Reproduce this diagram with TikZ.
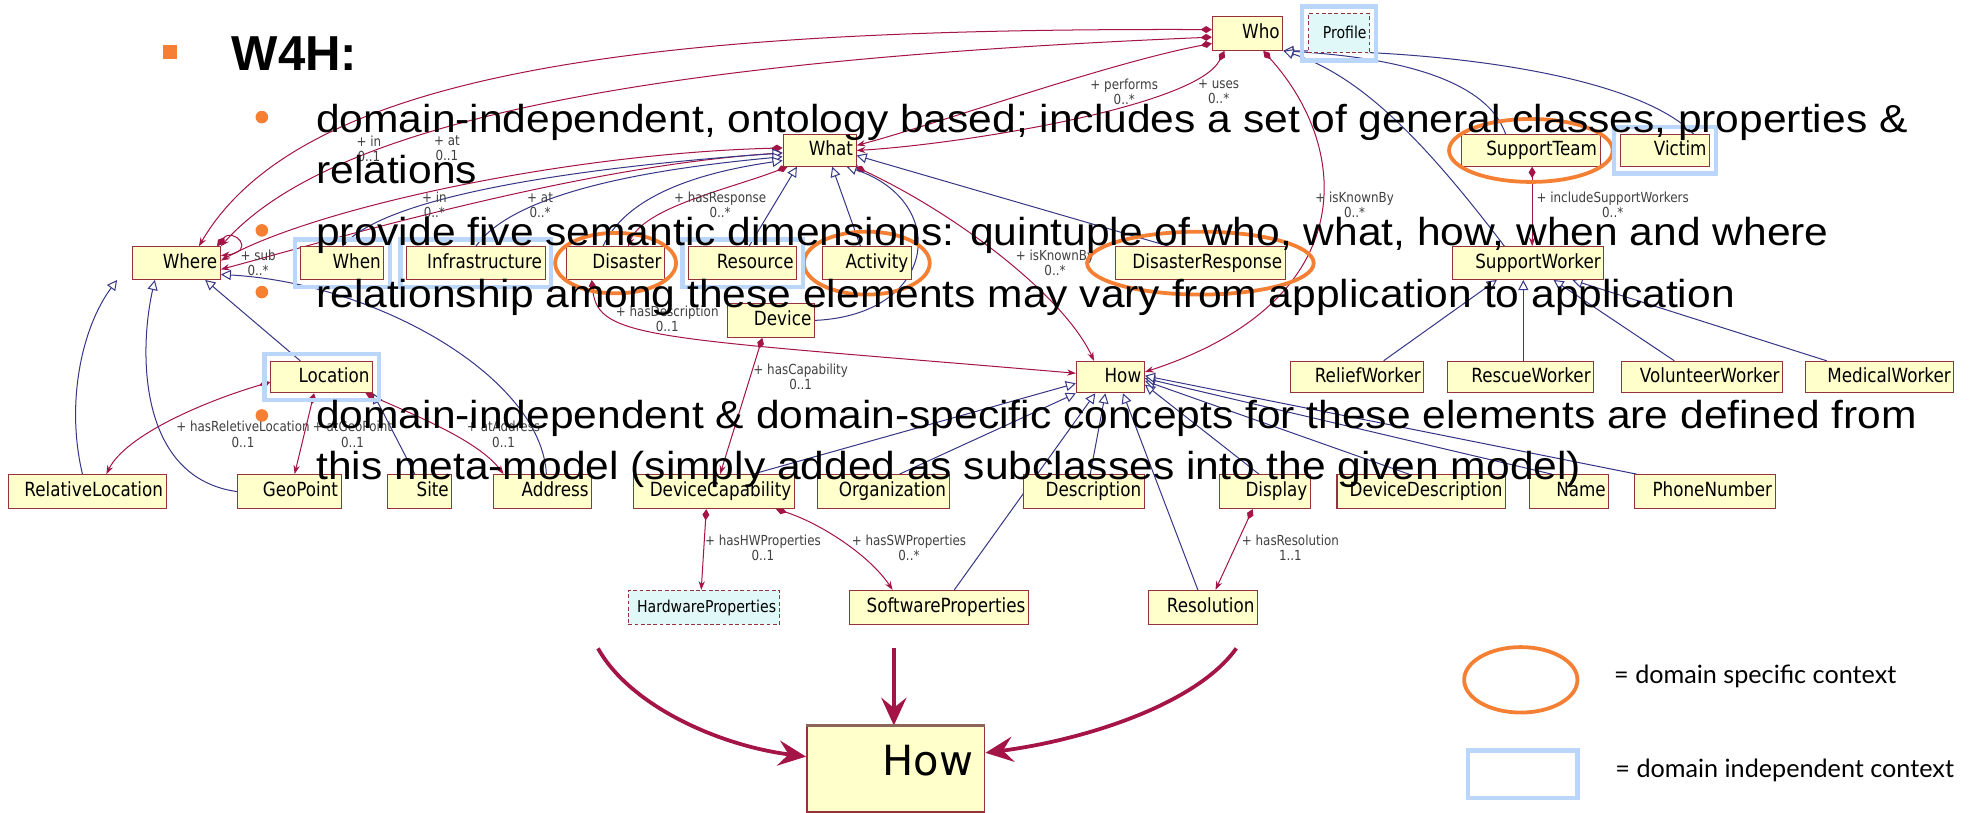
\documentclass[tikz,border=0pt]{standalone}
\usepackage{fontspec}
\setmainfont{Liberation Sans}
\newfontfamily\slidefont[FakeStretch=1.09]{Liberation Sans}
\newfontfamily\umlfont[FakeStretch=0.86]{DejaVu Sans}
\newfontfamily\bigumlfont{DejaVu Sans}
\newfontfamily\legendfont{Lato}
\usetikzlibrary{arrows.meta,fit,shapes.geometric}
\pgfdeclarelayer{bg}
\pgfsetlayers{bg,main}
\definecolor{clsfill}{RGB}{255,255,204}
\definecolor{clsdraw}{RGB}{150,50,60}
\definecolor{ifacefill}{RGB}{224,248,248}
\definecolor{assoccol}{RGB}{165,20,70}
\definecolor{gencol}{RGB}{55,55,135}
\definecolor{ctxorange}{RGB}{245,128,52}
\definecolor{ctxblue}{RGB}{186,214,250}
\definecolor{bigtop}{RGB}{140,100,90}
\def\umlbox[#1](#2)(#3,#4)(#5,#6)#7{%
	\pgfmathsetmacro\bw{#5-#3}\pgfmathsetmacro\bh{#6-#4}\pgfmathsetmacro\tw{#5-#3-5}%
	\node[cls,#1,minimum width=\bw pt,minimum height=\bh pt,text width=\tw pt] (#2) at ({(#3+#5)/2},{(#4+#6)/2}) {#7};}
\tikzset{
	cls/.style={draw=clsdraw, fill=clsfill, line width=0.8pt, inner xsep=2.5pt, inner ysep=0pt, align=right, font=\umlfont\fontsize{15.5}{17}\selectfont, text height=11pt, text depth=3pt},
	iface/.style={fill=ifacefill, dash pattern=on 3pt off 2pt, font=\umlfont\fontsize{13}{15}\selectfont},
	lbl/.style={font=\umlfont\fontsize{11}{12}\selectfont, align=center, inner sep=0pt, text=black!75},
	assoc/.style={draw=assoccol, line width=0.8pt, {Diamond[length=9pt,width=5.5pt]}-{Stealth[length=7pt,width=5pt]}},
	gen/.style={draw=gencol, line width=0.8pt, -{Triangle[open,length=8pt,width=8pt,fill=white]}},
	indep/.style={draw=ctxblue, line width=3.5pt, inner xsep=4.5pt, inner ysep=5.5pt},
	dspec/.style={draw=ctxorange, line width=3pt},
	bigarrow/.style={draw=assoccol, line width=3pt, -{Stealth[length=22pt,width=20pt,inset=8pt]}},
	slide/.style={font=\slidefont\fontsize{31}{37}\selectfont, inner sep=0pt, anchor=base west},
	dot/.style={circle, fill=ctxorange, inner sep=0pt, minimum size=10pt}
}
\begin{document}
\begin{tikzpicture}[x=1pt,y=-1pt]
			%%%%% START %%%%%
			\useasboundingbox (0,0) rectangle (1568,645);
			
			% classes
			\umlbox[](who)(963,13)(1019,40){Who}
			\umlbox[iface](profile)(1039,11)(1088,42){Profile}
			\umlbox[](what)(622,107)(680,132){What}
			\umlbox[](supteam)(1161,107)(1271,132){SupportTeam}
			\umlbox[](victim)(1287,107)(1358,132){Victim}
			\umlbox[](where)(105,196)(175,222){Where}
			\umlbox[](when)(239,196)(305,222){When}
			\umlbox[](infra)(323,196)(433,222){Infrastructure}
			\umlbox[](disaster)(450,196)(528,222){Disaster}
			\umlbox[](resource)(547,196)(633,222){Resource}
			\umlbox[](activity)(653,196)(724,222){Activity}
			\umlbox[](response)(886,196)(1021,222){DisasterResponse}
			\umlbox[](supworker)(1154,196)(1274,222){SupportWorker}
			\umlbox[](device)(578,241)(647,268){Device}
			\umlbox[](location)(215,287)(296,312){Location}
			\umlbox[](how)(855,287)(909,312){How}
			\umlbox[](relief)(1025,287)(1131,312){ReliefWorker}
			\umlbox[](rescue)(1150,287)(1266,312){RescueWorker}
			\umlbox[](volunteer)(1288,287)(1416,312){VolunteerWorker}
			\umlbox[](medical)(1434,287)(1552,312){MedicalWorker}
			\umlbox[](relloc)(7,377)(132,404){RelativeLocation}
			\umlbox[](geopoint)(189,377)(271,404){GeoPoint}
			\umlbox[](site)(308,377)(359,404){Site}
			\umlbox[](address)(392,377)(470,404){Address}
			\umlbox[](devcap)(503,377)(631,404){DeviceCapability}
			\umlbox[](organization)(649,377)(754,404){Organization}
			\umlbox[](description)(813,377)(909,404){Description}
			\umlbox[](display)(969,377)(1041,404){Display}
			\umlbox[](devdesc)(1062,377)(1196,404){DeviceDescription}
			\umlbox[](name)(1215,377)(1278,404){Name}
			\umlbox[](phone)(1298,377)(1410,404){PhoneNumber}
			\umlbox[iface](hwprops)(499,469)(619,496){HardwareProperties}
			\umlbox[](swprops)(675,469)(817,496){SoftwareProperties}
			\umlbox[](resolution)(912,469)(999,496){Resolution}
			
			\node[cls, line width=1.5pt, font=\bigumlfont\fontsize{33}{36}\selectfont, inner xsep=9pt, text height=24pt, text depth=14pt, minimum width=141pt, minimum height=68pt, text width=123pt] (bighow) at (711.5,611) {How};
			\draw[line width=3pt, bigtop] (bighow.north west) -- (bighow.north east);
			
			\begin{pgfonlayer}{bg}
			\fill[white] (0,0) rectangle (1568,645);
			
			% associations
			\draw[assoc] ([yshift=3pt]who.west) .. controls (520,22) and (240,55) .. ([xshift=18pt]where.north);
			\draw[assoc] ([yshift=-3pt]who.west) .. controls (520,48) and (265,95) .. (where.north east);
			\draw[assoc] ([yshift=2pt]what.west) .. controls (450,122) and (250,165) .. ([yshift=2pt]where.east);
			\draw[assoc] ([yshift=-2pt]what.west) .. controls (460,132) and (265,190) .. ([yshift=-5pt]where.east);
			\draw[assoc] ([xshift=-3pt]where.north east) .. controls (185,180) and (205,200) .. ([yshift=6pt]where.east);
			\draw[assoc] ([yshift=-8pt]who.west) .. controls (880,50) and (740,100) .. ([yshift=4pt]what.east);
			\draw[assoc] ([xshift=10pt]who.south west) .. controls (950,85) and (760,115) .. (what.east);
			\draw[assoc] ([xshift=-16pt]who.south east) .. controls (1075,120) and (1080,240) .. ([yshift=4pt]how.east);
			\draw[assoc] ([xshift=-1pt]what.south east) .. controls (760,170) and (845,235) .. ([xshift=-13pt]how.north);
			\draw[assoc] ([xshift=4pt]what.south west) .. controls (580,150) and (510,165) .. ([xshift=10pt]disaster.north);
			\draw[assoc] ([xshift=-19pt]disaster.south) .. controls (475,270) and (520,268) .. ([yshift=3pt]how.west);
			\draw[assoc] ([xshift=-7pt]device.south) -- ([xshift=5pt]devcap.north);
			\draw[assoc] ([yshift=-4pt]location.west) .. controls (165,318) and (100,345) .. ([xshift=15pt]relloc.north);
			\draw[assoc] ([xshift=-6pt]location.south) -- ([xshift=4pt]geopoint.north);
			\draw[assoc] ([xshift=-6pt]location.south east) .. controls (330,330) and (380,350) .. ([xshift=-31pt]address.north);
			\draw[assoc] ([xshift=-6pt]devcap.south) -- ([xshift=-2pt]hwprops.north);
			\draw[assoc] ([xshift=-15pt]devcap.south east) .. controls (650,415) and (690,440) .. ([xshift=-37pt]swprops.north);
			\draw[assoc] ([xshift=-10pt]display.south) -- ([xshift=10pt]resolution.north);
			\draw[assoc] ([xshift=1pt]supteam.south) -- ([xshift=3pt]supworker.north);
			
			% generalizations
			\draw[gen] (when.north) .. controls (310,150) and (500,130) .. ([yshift=-2pt]what.west);
			\draw[gen] (infra.north) .. controls (410,150) and (530,133) .. ([yshift=-5pt]what.west);
			\draw[gen] ([xshift=-10pt]disaster.north) .. controls (500,150) and (570,135) .. ([yshift=-8pt]what.west);
			\draw[gen] ([xshift=5pt]resource.north) -- ([xshift=-18pt]what.south);
			\draw[gen] ([xshift=-5pt]activity.north) -- ([xshift=10pt]what.south);
			\draw[gen] (device.east) .. controls (745,250) and (755,160) .. ([xshift=-8pt]what.south east);
			\draw[gen] ([xshift=-25pt]response.north) -- ([yshift=-4pt]what.east);
			\draw[gen] ([xshift=-4pt]relloc.north) .. controls (52,320) and (65,260) .. ([xshift=-47pt]where.south);
			\draw[gen] (geopoint.west) .. controls (110,380) and (110,280) .. ([xshift=-17pt]where.south);
			\draw[gen] ([xshift=-17pt]location.north) -- ([xshift=23pt]where.south);
			\draw[gen] ([xshift=-4pt]site.north) -- (location.south east);
			\draw[gen] ([xshift=3pt]address.north) .. controls (430,300) and (300,225) .. ([yshift=-9pt]where.east);
			
			\draw[gen] ([xshift=31pt]devcap.north) -- ([yshift=-5pt]how.west);
			\draw[gen] ([xshift=13pt]organization.north) -- (how.south west);
			\draw[gen] ([xshift=12pt]swprops.north) -- ([xshift=-12pt]how.south);
			\draw[gen] ([xshift=5pt]description.north) -- ([xshift=-4pt]how.south);
			\draw[gen] ([xshift=-4pt]resolution.north) -- ([xshift=10pt]how.south);
			\draw[gen] ([xshift=-5pt]display.north) -- ([yshift=-6pt]how.east);
			\draw[gen] ([xshift=-10pt]devdesc.north) -- ([yshift=-3pt]how.east);
			\draw[gen] ([xshift=-14pt]name.north) -- ([yshift=-1pt]how.east);
			\draw[gen] ([xshift=-54pt]phone.north) -- ([yshift=1pt]how.east);
			
			\draw[gen] ([xshift=21pt]relief.north) -- ([xshift=-25pt]supworker.south);
			\draw[gen] ([xshift=2pt]rescue.north) -- ([xshift=-4pt]supworker.south);
			\draw[gen] ([xshift=-22pt]volunteer.north) -- ([xshift=20pt]supworker.south);
			\draw[gen] ([xshift=-42pt]medical.north) -- ([xshift=35pt]supworker.south);
			
			\draw[gen] ([xshift=-20pt]supteam.north) .. controls (1180,60) and (1100,45) .. (who.south east);
			\draw[gen] ([xshift=23pt]victim.north) .. controls (1300,60) and (1150,40) .. (who.south east);
			\draw[gen] ([xshift=-19pt]supworker.north) .. controls (1130,110) and (1080,60) .. (who.south east);
			
			% zoomed part
			\coordinate (lefttail) at (475,515);
			\coordinate (toptail) at (710,515);
			\coordinate (righttail) at (982,515);
			\draw[bigarrow] (lefttail) .. controls (500,560) and (570,592) .. ([yshift=10pt]bighow.west);
			\draw[bigarrow] (toptail) -- (toptail |- bighow.north);
			\draw[bigarrow] (righttail) .. controls (950,560) and (860,588) .. ([yshift=13pt]bighow.east);
			\end{pgfonlayer}
			
			% role labels
			\node[lbl] (lblin) at (293,118) {+ in\\0..1};
			\node[lbl] (lblat) at (355,118) {+ at\\0..1};
			\node[lbl] (lblinwhat) at (345,163) {+ in\\0..*};
			\node[lbl] (lblatwhat) at (429,163) {+ at\\0..*};
			\node[lbl] (lblresp) at (572,163) {+ hasResponse\\0..*};
			\node[lbl] (lblperf) at (893,73) {+ performs\\0..*};
			\node[lbl] (lbluses) at (968,73) {+ uses\\0..*};
			\node[lbl] (lblknown) at (1076,163) {+ isKnownBy\\0..*};
			\node[lbl] (lblknownwhat) at (838,209) {+ isKnownBy\\0..*};
			\node[lbl] (lblincl) at (1281,163) {+ includeSupportWorkers\\0..*};
			\node[lbl] (lblsub) at (205,209) {+ sub\\0..*};
			\node[lbl] (lbldesc) at (530,253) {+ hasDescription\\0..1};
			\node[lbl] (lblcap) at (636,299) {+ hasCapability\\0..1};
			\node[lbl] (lblrel) at (193,345) {+ hasReletiveLocation\\0..1};
			\node[lbl] (lblgeo) at (280,345) {+ atGeoPoint\\0..1};
			\node[lbl] (lbladdr) at (400,345) {+ atAddress\\0..1};
			\node[lbl] (lblhw) at (606,435) {+ hasHWProperties\\0..1};
			\node[lbl] (lblsw) at (722,435) {+ hasSWProperties\\0..*};
			\node[lbl] (lblres) at (1025,435) {+ hasResolution\\1..1};
			
			% context marks
			\draw[dspec] (disaster) ellipse [x radius=48, y radius=24];
			\draw[dspec] (activity) ellipse [x radius=50, y radius=25];
			\draw[dspec] (response) ellipse [x radius=90, y radius=25];
			\draw[dspec] (supteam) ellipse [x radius=65, y radius=25];
			\node[indep, fit=(profile)] (profilectx) {};
			\node[indep, fit=(victim)] (victimctx) {};
			\node[indep, fit=(when)] (whenctx) {};
			\node[indep, fit=(infra)] (infractx) {};
			\node[indep, fit=(resource)] (resourcectx) {};
			\node[indep, fit=(location)] (locationctx) {};
			
			% legend
			\node[dspec, ellipse, inner sep=0pt, minimum width=90pt, minimum height=52pt] (legspec) at (1208,540) {};
			\node[font=\legendfont\fontsize{20}{24}\selectfont, anchor=west, inner sep=0pt] (legspectext) at (1282,537) {= domain specific context};
			\node[indep, inner sep=0pt, minimum width=87pt, minimum height=38pt] (legindep) at (1209.5,615) {};
			\node[font=\legendfont\fontsize{20}{24}\selectfont, anchor=west, inner sep=0pt] (legindeptext) at (1283,612) {= domain independent context};
			
			% slide text
			\node[fill=ctxorange, minimum size=11pt, inner sep=0pt] (square) at (135,41.5) {};
			\node[font=\bfseries\fontsize{39}{44}\selectfont, anchor=base west, inner sep=0pt] (title) at (184,56) {W4H:};
			\node[dot] (dot1) at (208,93) {};
			\node[dot] (dot2) at (208,183) {};
			\node[dot] (dot3) at (208,232) {};
			\node[dot] (dot4) at (208,330) {};
			\node[slide] (item1a) at (251,105) {domain-independent, ontology based; includes a set of general classes, properties \&};
			\node[slide] (item1b) at (251,146) {relations};
			\node[slide] (item2) at (251,195) {provide five semantic dimensions: quintuple of who, what, how, when and where};
			\node[slide] (item3) at (251,244) {relationship among these elements may vary from application to application};
			\node[slide] (item4a) at (251,340) {domain-independent \& domain-specific concepts for these elements are defined from};
			\node[slide] (item4b) at (251,381) {this meta-model (simply added as subclasses into the given model)};
			
			%%%%% END %%%%%
\end{tikzpicture}
\end{document}
